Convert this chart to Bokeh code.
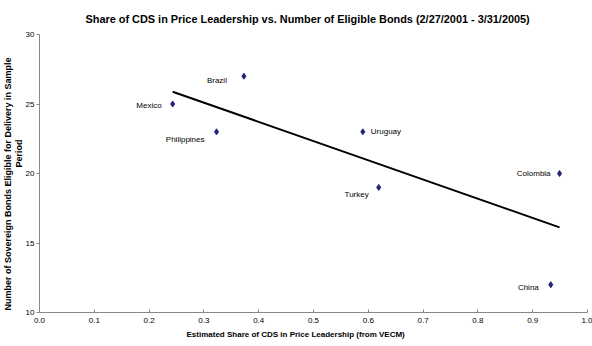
import numpy as np
from bokeh.plotting import figure
from bokeh.models import ColumnDataSource, FixedTicker, Range1d, Title
from bokeh.embed import file_html
from bokeh.resources import INLINE
from bokeh.core.properties import value

# ---- data ----
countries = ["Mexico", "Brazil", "Philippines", "Uruguay", "Turkey", "Colombia", "China"]
cds_share = [0.243, 0.373, 0.323, 0.590, 0.619, 0.949, 0.933]
eligible_bonds = [25, 27, 23, 23, 19, 20, 12]
x_ticks = [0.0, 0.1, 0.2, 0.3, 0.4, 0.5, 0.6, 0.7, 0.8, 0.9, 1.0]
y_ticks = [10, 15, 20, 25, 30]
title_text = "Share of CDS in Price Leadership vs. Number of Eligible Bonds (2/27/2001 - 3/31/2005)"
x_title = "Estimated Share of CDS in Price Leadership (from VECM)"
y_title_lines = ["Number of Sovereign Bonds Eligible for Delivery in Sample", "Period"]

# ---- label styling (screen offsets, align) ----
label_dx = [-11, -17, -12, 8, -10, -9, -12]
label_dy = [1, 4, 8, 0, 7, 0, 3]
label_align = ["right", "right", "right", "left", "right", "right", "right"]

FONT = "Liberation Sans"

p = figure(width=592, height=346, output_backend="svg", toolbar_location=None,
           x_range=Range1d(0, 1), y_range=Range1d(10, 30),
           min_border_left=39, min_border_right=5, min_border_top=34, min_border_bottom=34)
p.title.text = title_text
p.title.text_font = FONT
p.title.text_font_size = "10.9px"
p.title.text_font_style = "bold"
p.title.text_color = "black"
p.title.align = "left"
p.title.offset = 46
p.title.standoff = 19
p.title.text_line_height = 0.4

p.grid.visible = False
p.outline_line_color = None
p.background_fill_color = "white"
p.border_fill_color = "white"

for ax in (p.xaxis[0], p.yaxis[0]):
    ax.axis_line_color = "#888888"
    ax.major_tick_line_color = "#888888"
    ax.minor_tick_line_color = None
    ax.major_label_text_font = FONT
    ax.major_label_text_font_size = "8px"
    ax.major_label_text_color = "black"

p.xaxis.ticker = FixedTicker(ticks=x_ticks)
p.xaxis.major_label_overrides = {t: f"{t:.1f}" for t in x_ticks}
p.xaxis.major_tick_in = 3
p.xaxis.major_tick_out = 0
p.xaxis.major_label_standoff = 5

p.yaxis.ticker = FixedTicker(ticks=y_ticks)
p.yaxis.major_tick_in = 0
p.yaxis.major_tick_out = 3
p.yaxis.major_label_standoff = 2

p.add_layout(Title(text=x_title, align="left", offset=147, standoff=5, text_font=FONT,
                   text_font_size="8px", text_font_style="bold", text_color="black"), "below")
p.add_layout(Title(text=y_title_lines[1], align="left", offset=145, standoff=-2, text_font=FONT,
                   text_font_size="9px", text_font_style="bold", text_color="black"), "left")
p.add_layout(Title(text=y_title_lines[0], align="left", offset=2, standoff=0, text_font=FONT,
                   text_font_size="9px", text_font_style="bold", text_color="black"), "left")

# trend line (OLS fit of the data)
xs = np.array(cds_share)
ys = np.array(eligible_bonds, dtype=float)
slope, intercept = np.polyfit(xs, ys, 1)
tx = [xs.min(), xs.max()]
ty = [slope * v + intercept for v in tx]
p.line(tx, ty, line_color="black", line_width=2)

src = ColumnDataSource(dict(x=cds_share, y=eligible_bonds, name=countries,
                            dx=label_dx, dy=label_dy, align=label_align))
p.scatter("x", "y", source=src, marker="diamond", size=6,
          fill_color="#22227f", line_color="#22227f")
p.text("x", "y", text="name", source=src, x_offset="dx", y_offset="dy",
       text_align="align", text_baseline="middle",
       text_font=value(FONT), text_font_size="8px", text_color="black")

open("out.html", "w").write(file_html(p, INLINE))
